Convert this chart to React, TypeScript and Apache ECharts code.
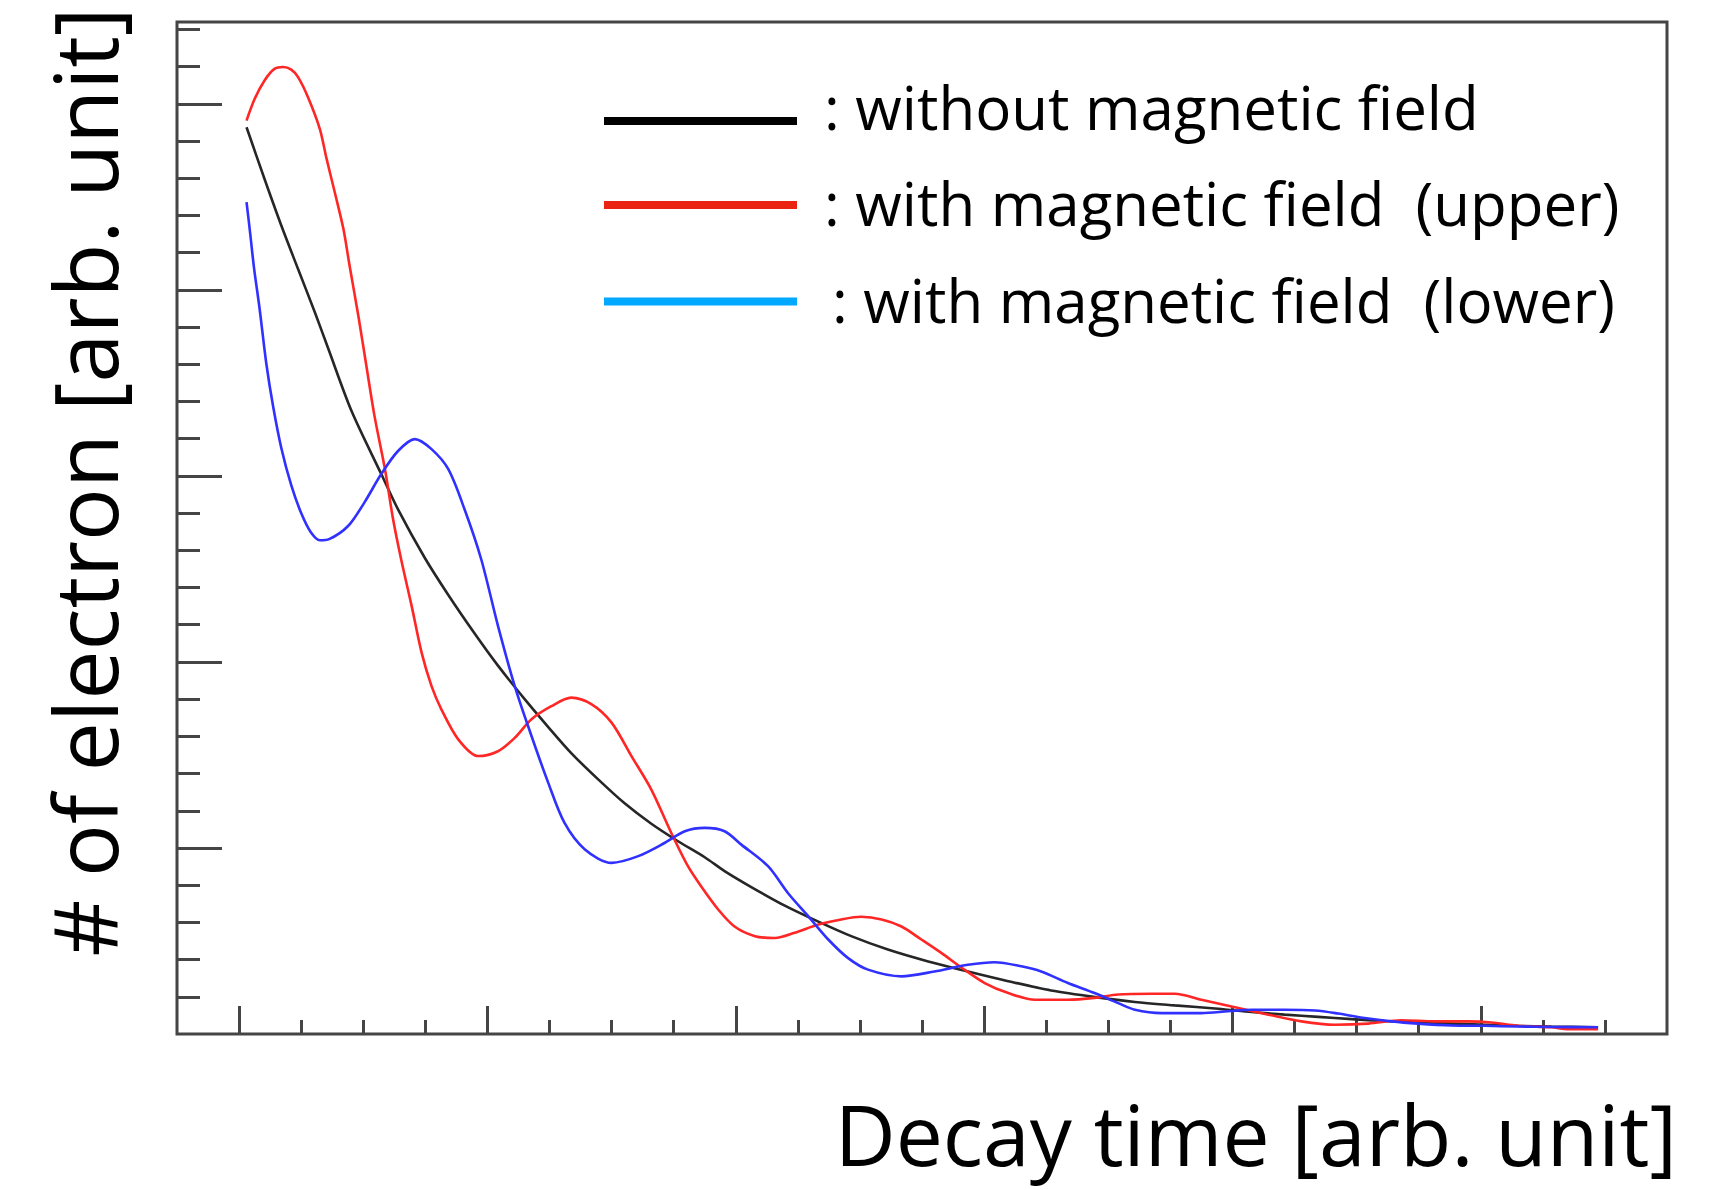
import React, { useEffect, useRef } from "react";
import * as echarts from "echarts";

// ---- axis ticks (no tick labels in the figure) ----
const xTicks = [0, 1, 2, 3, 4, 5, 6, 7, 8, 9, 10, 11, 12, 13, 14, 15, 16, 17, 18, 19, 20, 21, 22];
const xMajorTicks = [0, 4, 8, 12, 16, 20];
const yTicks = [1, 2, 3, 4, 5, 6, 7, 8, 9, 10, 11, 12, 13, 14, 15, 16, 17, 18, 19, 20, 21, 22, 23, 24, 25, 26, 27];
const yMajorTicks = [5, 10, 15, 20, 25];

// ---- texts ----
const xTitle = "Decay time [arb. unit]";
const yTitle = "# of electron [arb. unit]";
const seriesNames = ["without magnetic field", "with magnetic field (upper)", "with magnetic field (lower)"];
const legendTexts = [": without magnetic field", ": with magnetic field  (upper)", ": with magnetic field  (lower)"];

// ---- series values [decay time, # of electrons] ----
const noFieldCurve = [
  [0.12, 24.37], [0.41, 22.98], [0.68, 21.73], [0.95, 20.56], [1.22, 19.4], [1.43, 18.45],
  [1.81, 16.75], [2.29, 15.05], [2.56, 14.1], [2.99, 12.8], [3.37, 11.8], [3.8, 10.75],
  [4.17, 9.9], [4.6, 9.0], [4.98, 8.25], [5.35, 7.55], [5.78, 6.85], [6.21, 6.2],
  [6.64, 5.65], [7.07, 5.18], [7.5, 4.75], [7.82, 4.38], [8.25, 3.95], [8.79, 3.45],
  [9.33, 3.02], [9.86, 2.63], [10.45, 2.27], [11.1, 1.95], [11.74, 1.68], [12.39, 1.42],
  [13.08, 1.17], [13.89, 0.97], [14.43, 0.86], [15.07, 0.77], [15.77, 0.68], [16.31, 0.59],
  [16.84, 0.52], [17.38, 0.46], [17.92, 0.4], [18.45, 0.35], [18.99, 0.31], [19.53, 0.28],
  [20.06, 0.25], [20.6, 0.22], [21.14, 0.2], [21.89, 0.18],
];

const upperFieldCurve = [
  [0.12, 24.55], [0.25, 25.13], [0.41, 25.63], [0.57, 25.94], [0.71, 25.99], [0.84, 25.92],
  [0.95, 25.72], [1.11, 25.18], [1.3, 24.33], [1.41, 23.52], [1.54, 22.63], [1.68, 21.64],
  [1.78, 20.65], [1.92, 19.31], [2.05, 17.96], [2.18, 16.62], [2.35, 15.18], [2.48, 13.84],
  [2.61, 12.76], [2.78, 11.5], [2.94, 10.25], [3.1, 9.35], [3.26, 8.72], [3.53, 7.92],
  [3.85, 7.47], [4.17, 7.6], [4.44, 7.96], [4.71, 8.46], [5.03, 8.81], [5.35, 9.04],
  [5.68, 8.86], [6.0, 8.37], [6.32, 7.47], [6.64, 6.57], [6.96, 5.41], [7.23, 4.51],
  [7.45, 3.95], [7.72, 3.34], [7.98, 2.89], [8.31, 2.63], [8.63, 2.58], [8.95, 2.72],
  [9.33, 2.94], [9.7, 3.08], [10.02, 3.15], [10.35, 3.08], [10.67, 2.89], [10.99, 2.54],
  [11.31, 2.18], [11.64, 1.78], [12.01, 1.37], [12.39, 1.1], [12.82, 0.92], [13.35, 0.92],
  [13.78, 0.97], [14.16, 1.06], [14.7, 1.08], [15.07, 1.08], [15.5, 0.92], [16.04, 0.72],
  [16.58, 0.52], [17.11, 0.34], [17.65, 0.25], [18.19, 0.28], [18.72, 0.37], [19.26, 0.34],
  [19.8, 0.34], [20.17, 0.31], [20.6, 0.22], [21.14, 0.18], [21.41, 0.13], [21.89, 0.13],
];

const lowerFieldCurve = [
  [0.12, 22.36], [0.18, 21.5], [0.24, 20.6], [0.33, 19.5], [0.44, 18.0], [0.55, 16.85],
  [0.68, 15.75], [0.84, 14.75], [1.0, 14.0], [1.15, 13.5], [1.3, 13.27], [1.45, 13.3],
  [1.76, 13.66], [2.02, 14.29], [2.29, 15.05], [2.56, 15.67], [2.83, 15.99], [3.1, 15.72],
  [3.37, 15.18], [3.63, 14.11], [3.9, 12.76], [4.17, 10.97], [4.44, 9.35], [4.71, 8.01],
  [4.98, 6.75], [5.24, 5.68], [5.57, 4.96], [6.0, 4.6], [6.43, 4.78], [6.86, 5.14],
  [7.18, 5.45], [7.5, 5.54], [7.82, 5.45], [8.09, 5.09], [8.52, 4.51], [8.84, 3.79],
  [9.17, 3.16], [9.49, 2.54], [9.81, 2.04], [10.13, 1.73], [10.67, 1.55], [11.2, 1.68],
  [11.74, 1.86], [12.17, 1.93], [12.6, 1.82], [12.92, 1.68], [13.35, 1.37], [13.78, 1.1],
  [14.16, 0.83], [14.43, 0.65], [14.86, 0.56], [15.5, 0.56], [15.93, 0.61], [16.31, 0.65],
  [16.84, 0.65], [17.33, 0.63], [17.7, 0.55], [18.13, 0.43], [18.56, 0.34], [18.99, 0.28],
  [19.53, 0.23], [20.06, 0.22], [20.6, 0.2], [21.14, 0.19], [21.89, 0.18],
];

const FONT = '"Open Sans", "Liberation Sans", Arial, sans-serif';
const FRAME = "#454545";

export default function App() {
  const ref = useRef<HTMLDivElement>(null);

  useEffect(() => {
    if (!ref.current) return;
    const chart = echarts.init(ref.current, undefined, { renderer: "svg" });

    const baseX = { type: "value", min: -1, max: 23, position: "bottom", offset: 0, gridIndex: 0,
      axisLine: { show: false, onZero: false }, axisLabel: { show: false }, splitLine: { show: false } };
    const baseY = { type: "value", min: 0, max: 27.2, position: "left", offset: 0, gridIndex: 0,
      axisLine: { show: false, onZero: false }, axisLabel: { show: false }, splitLine: { show: false } };

    const lineSeries = (name: string, data: number[][], color: string, z: number) => ({
      name, type: "line", data, xAxisIndex: 0, yAxisIndex: 0,
      showSymbol: false, symbol: "none", smooth: 0.3,
      lineStyle: { color, width: 2.6 }, itemStyle: { color }, z,
    });

    const legendLine = (y: number, color: string) => ({
      type: "line", shape: { x1: 604, y1: y, x2: 797, y2: y },
      style: { stroke: color, lineWidth: 8 }, silent: true,
    });
    const LS = 60;
    const legendText = (x: number, y: number, text: string) => ({
      type: "text", x, y,
      style: { text, fill: "#000", font: `${LS}px ${FONT}`, fontSize: LS, fontFamily: FONT, lineHeight: LS,
        align: "left", verticalAlign: "middle", textAlign: "left", textVerticalAlign: "middle" },
      silent: true,
    });

    const XS = 84;
    const YS = 88;

    chart.setOption({
      animation: false,
      backgroundColor: "#ffffff",
      grid: { left: 177, top: 22, width: 1490, height: 1012, show: true,
        borderColor: FRAME, borderWidth: 3, backgroundColor: "transparent" },
      xAxis: [
        { ...baseX, axisTick: { show: true, inside: true, length: 14, customValues: xTicks,
          lineStyle: { color: FRAME, width: 3 } } },
        { ...baseX, axisTick: { show: true, inside: true, length: 28, customValues: xMajorTicks,
          lineStyle: { color: FRAME, width: 3 } } },
      ],
      yAxis: [
        { ...baseY, axisTick: { show: true, inside: true, length: 23, customValues: yTicks,
          lineStyle: { color: FRAME, width: 3 } } },
        { ...baseY, axisTick: { show: true, inside: true, length: 45, customValues: yMajorTicks,
          lineStyle: { color: FRAME, width: 3 } } },
      ],
      series: [
        lineSeries(seriesNames[0], noFieldCurve, "#262626", 2),
        lineSeries(seriesNames[1], upperFieldCurve, "#ff2626", 3),
        lineSeries(seriesNames[2], lowerFieldCurve, "#3030ff", 4),
      ],
      graphic: [
        legendLine(121, "#000000"),
        legendLine(205, "#ea2312"),
        legendLine(301.5, "#00a8ff"),
        legendText(824, 130 - 0.388 * LS, legendTexts[0]),
        legendText(824, 226.7 - 0.388 * LS, legendTexts[1]),
        legendText(832, 323 - 0.388 * LS, legendTexts[2]),
        {
          type: "text", x: 1677, y: 1166 - 0.388 * XS,
          style: { text: xTitle, fill: "#000", font: `${XS}px ${FONT}`, fontSize: XS, fontFamily: FONT, lineHeight: XS,
            align: "right", verticalAlign: "middle", textAlign: "right", textVerticalAlign: "middle" },
          silent: true,
        },
        {
          type: "text", x: 118 - 0.388 * YS, y: 482, rotation: Math.PI / 2,
          style: { text: yTitle, fill: "#000", font: `${YS}px ${FONT}`, fontSize: YS, fontFamily: FONT, lineHeight: YS,
            align: "center", verticalAlign: "middle", textAlign: "center", textVerticalAlign: "middle" },
          silent: true,
        },
      ],
    });

    return () => chart.dispose();
  }, []);

  return (
    <div
      ref={ref}
      style={{ position: "absolute", left: 0, top: 0, width: 1733, height: 1190, background: "#fff" }}
    />
  );
}
